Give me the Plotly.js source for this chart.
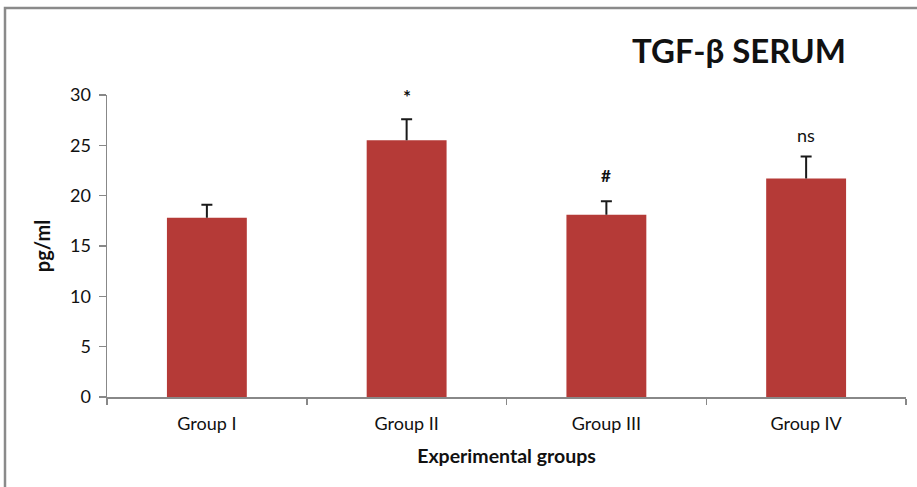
<!DOCTYPE html>
<html>
<head>
<meta charset="utf-8">
<script src="https://cdn.plot.ly/plotly-3.0.1.min.js"></script>
<style>html,body{margin:0;padding:0;background:#fff;}#chart{width:917px;height:487px;}</style>
</head>
<body>
<div id="chart"></div>
<script>
const categories = ["Group I", "Group II", "Group III", "Group IV"];
const values = [17.8, 25.5, 18.1, 21.7];
const errors = [1.3, 2.1, 1.35, 2.2];
const marks = ["", "*", "#", "ns"];
const yTicks = [0, 5, 10, 15, 20, 25, 30];

const FONT = "Lato, 'Open Sans', sans-serif";

const trace = {
  type: "bar",
  x: categories,
  y: values,
  width: 0.4,
  marker: {color: "#B53A37", line: {color: "#B53A37", width: 0}},
  error_y: {type: "data", array: errors, symmetric: false, arrayminus: [0,0,0,0], color: "#1a1a1a", thickness: 2, width: 5.5},
  hoverinfo: "none"
};

const markShift = {"*": 23, "#": 26, "ns": 21};
const markSize = {"*": 19, "#": 17, "ns": 18};
const markText = {"*": "<b>*</b>", "#": "<b>#</b>", "ns": "ns"};
const annotations = marks.map((m, i) => ({
  x: categories[i], y: values[i] + errors[i], xref: "x", yref: "y",
  text: markText[m] || "", showarrow: false, yanchor: "middle", yshift: markShift[m] || 0,
  font: {family: FONT, size: markSize[m] || 16, color: "#111"}
})).filter(a => a.text !== "");

annotations.push({
  xref: "paper", yref: "paper", x: 0.791, y: 1.149, xanchor: "center", yanchor: "middle",
  text: "<b>TGF-β SERUM</b>", showarrow: false,
  font: {family: FONT, size: 33, color: "#111"}
});

const layout = {
  width: 917, height: 487,
  margin: {l: 107, r: 11, t: 95, b: 90},
  paper_bgcolor: "#fff", plot_bgcolor: "#fff",
  showlegend: false,
  font: {family: FONT, color: "#111"},
  xaxis: {
    type: "category", tickson: "boundaries", ticks: "outside", ticklen: 6, tickcolor: "#888", tickwidth: 1.5,
    showline: true, linecolor: "#888", linewidth: 1.5, showgrid: false,
    tickfont: {family: FONT, size: 18, color: "#111"}, ticklabelstandoff: 10,
    title: {text: "<b>Experimental groups</b>", font: {family: FONT, size: 19.5, color: "#111"}, standoff: 16},
    fixedrange: true
  },
  yaxis: {
    range: [0, 30], tickvals: yTicks, ticktext: yTicks.map(String), ticks: "outside", ticklen: 7, tickcolor: "#888", tickwidth: 1.5,
    showline: true, linecolor: "#888", linewidth: 1.5, showgrid: false, zeroline: false,
    tickfont: {family: FONT, size: 18, color: "#111"}, ticklabelstandoff: 4,
    title: {text: "<b>pg/ml</b>", font: {family: FONT, size: 20, color: "#111"}, standoff: 14},
    fixedrange: true
  },
  annotations: annotations,
  shapes: [{
    type: "rect", xref: "paper", yref: "paper",
    x0: (5 - 107) / 799, x1: (925 - 107) / 799,
    y0: (397 - 495) / 302, y1: (397 - 8) / 302,
    line: {color: "#8a8a8a", width: 2.5}, fillcolor: "rgba(0,0,0,0)", layer: "below"
  }]
};

Plotly.newPlot("chart", [trace], layout, {displayModeBar: false, staticPlot: true}).then(gd => {
  // Excel-style "plus" error bars: drop the lower cap drawn at the bar top
  gd.querySelectorAll(".errorbar path").forEach(p => {
    const d = p.getAttribute("d") || "";
    p.setAttribute("d", d.replace(/m-[\d.]+,0h[\d.]+$/, ""));
  });
});
</script>
</body>
</html>
